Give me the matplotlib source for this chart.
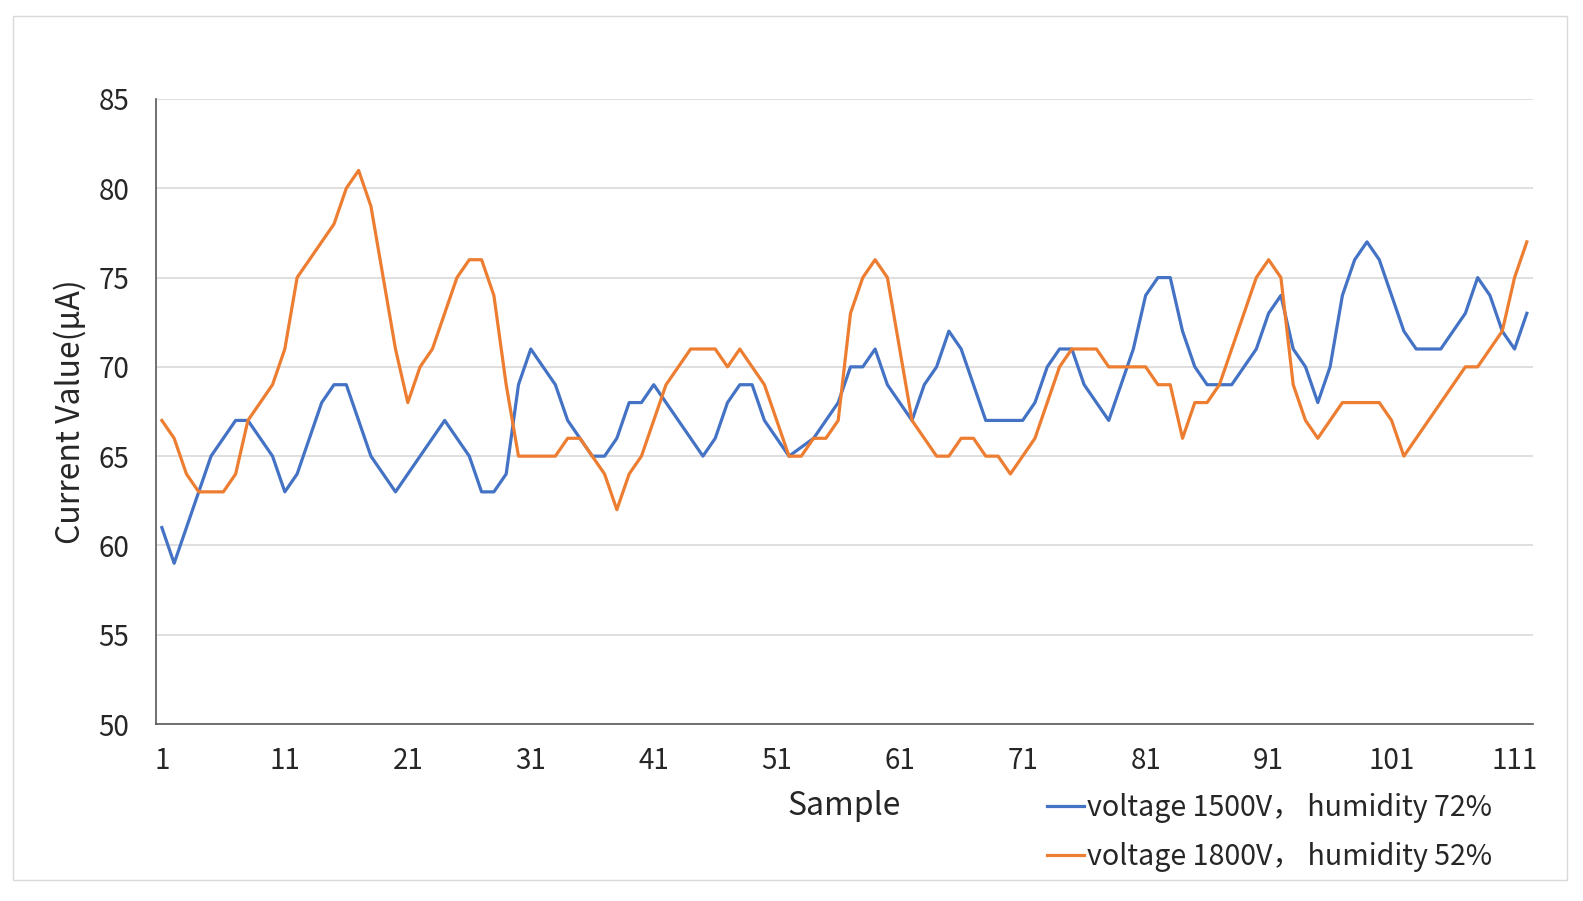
import matplotlib
matplotlib.use("Agg")
import matplotlib.pyplot as plt
from matplotlib.patches import Rectangle
import numpy as np

plt.rcParams["font.family"] = ["Noto Sans CJK SC", "DejaVu Sans"]

# ---------------- data ----------------
samples = np.arange(1, 113)

current_1500v = [
    61, 59, 61, 63, 65, 66, 67, 67, 66, 65,
    63, 64, 66, 68, 69, 69, 67, 65, 64, 63,
    64, 65, 66, 67, 66, 65, 63, 63, 64, 69,
    71, 70, 69, 67, 66, 65, 65, 66, 68, 68,
    69, 68, 67, 66, 65, 66, 68, 69, 69, 67,
    66, 65, 65.5, 66, 67, 68, 70, 70, 71, 69,
    68, 67, 69, 70, 72, 71, 69, 67, 67, 67,
    67, 68, 70, 71, 71, 69, 68, 67, 69, 71,
    74, 75, 75, 72, 70, 69, 69, 69, 70, 71,
    73, 74, 71, 70, 68, 70, 74, 76, 77, 76,
    74, 72, 71, 71, 71, 72, 73, 75, 74, 72,
    71, 73,
]

current_1800v = [
    67, 66, 64, 63, 63, 63, 64, 67, 68, 69,
    71, 75, 76, 77, 78, 80, 81, 79, 75, 71,
    68, 70, 71, 73, 75, 76, 76, 74, 69, 65,
    65, 65, 65, 66, 66, 65, 64, 62, 64, 65,
    67, 69, 70, 71, 71, 71, 70, 71, 70, 69,
    67, 65, 65, 66, 66, 67, 73, 75, 76, 75,
    71, 67, 66, 65, 65, 66, 66, 65, 65, 64,
    65, 66, 68, 70, 71, 71, 71, 70, 70, 70,
    70, 69, 69, 66, 68, 68, 69, 71, 73, 75,
    76, 75, 69, 67, 66, 67, 68, 68, 68, 68,
    67, 65, 66, 67, 68, 69, 70, 70, 71, 72,
    75, 77,
]

series_labels = [
    "voltage 1500V， humidity 72%",
    "voltage 1800V， humidity 52%",
]
x_ticks = list(range(1, 112, 10))
y_ticks = list(range(50, 90, 5))

BLUE = "#4472C4"
ORANGE = "#ED7D31"
TEXT = "#262626"

# ---------------- figure ----------------
W, H = 1583, 901
fig = plt.figure(figsize=(W / 100, H / 100), dpi=100)

# outer chart border
fig.patches.append(Rectangle((13 / W, 1 - 880 / H), (1567 - 13) / W, (880 - 16) / H,
                             transform=fig.transFigure, fill=False,
                             edgecolor="#d9d9d9", lw=1.0))

ax = fig.add_axes([155.7 / W, 1 - 724 / H, (1533 - 155.7) / W, (724 - 99) / H])

ax.plot(samples, current_1500v, color=BLUE, lw=2.3, label=series_labels[0])
ax.plot(samples, current_1800v, color=ORANGE, lw=2.3, label=series_labels[1])

ax.set_xlim(0.5, 112.5)
ax.set_ylim(50, 85)
ax.set_xticks(x_ticks)
ax.set_yticks(y_ticks)
ax.tick_params(axis="both", length=0, labelsize=20, colors=TEXT)
ax.tick_params(axis="y", pad=19)
ax.tick_params(axis="x", pad=16)

ax.grid(axis="y", color="#d9d9d9", lw=1.2)
ax.set_axisbelow(True)
for s in ["top", "right"]:
    ax.spines[s].set_visible(False)
for s in ["left", "bottom"]:
    ax.spines[s].set_color("#595959")
    ax.spines[s].set_linewidth(1.2)

ax.set_xlabel("Sample", fontsize=23, color=TEXT)
ax.xaxis.set_label_coords(0.5, (724 - 806) / 625)
ax.xaxis.label.set_va("center")
ax.set_ylabel("Current Value(μA)", fontsize=23, color=TEXT)
ax.yaxis.set_label_coords((70 - 155.7) / 1377.3, 0.5)
ax.yaxis.label.set_va("center")

fig.legend(loc="upper left", bbox_to_anchor=(1047 / W, 1 - 793 / H),
           frameon=False, fontsize=20.6, handlelength=1.3, handletextpad=0.1,
           labelspacing=0.66, labelcolor=TEXT, borderpad=0, borderaxespad=0)

fig.savefig("out.png", dpi=100)
